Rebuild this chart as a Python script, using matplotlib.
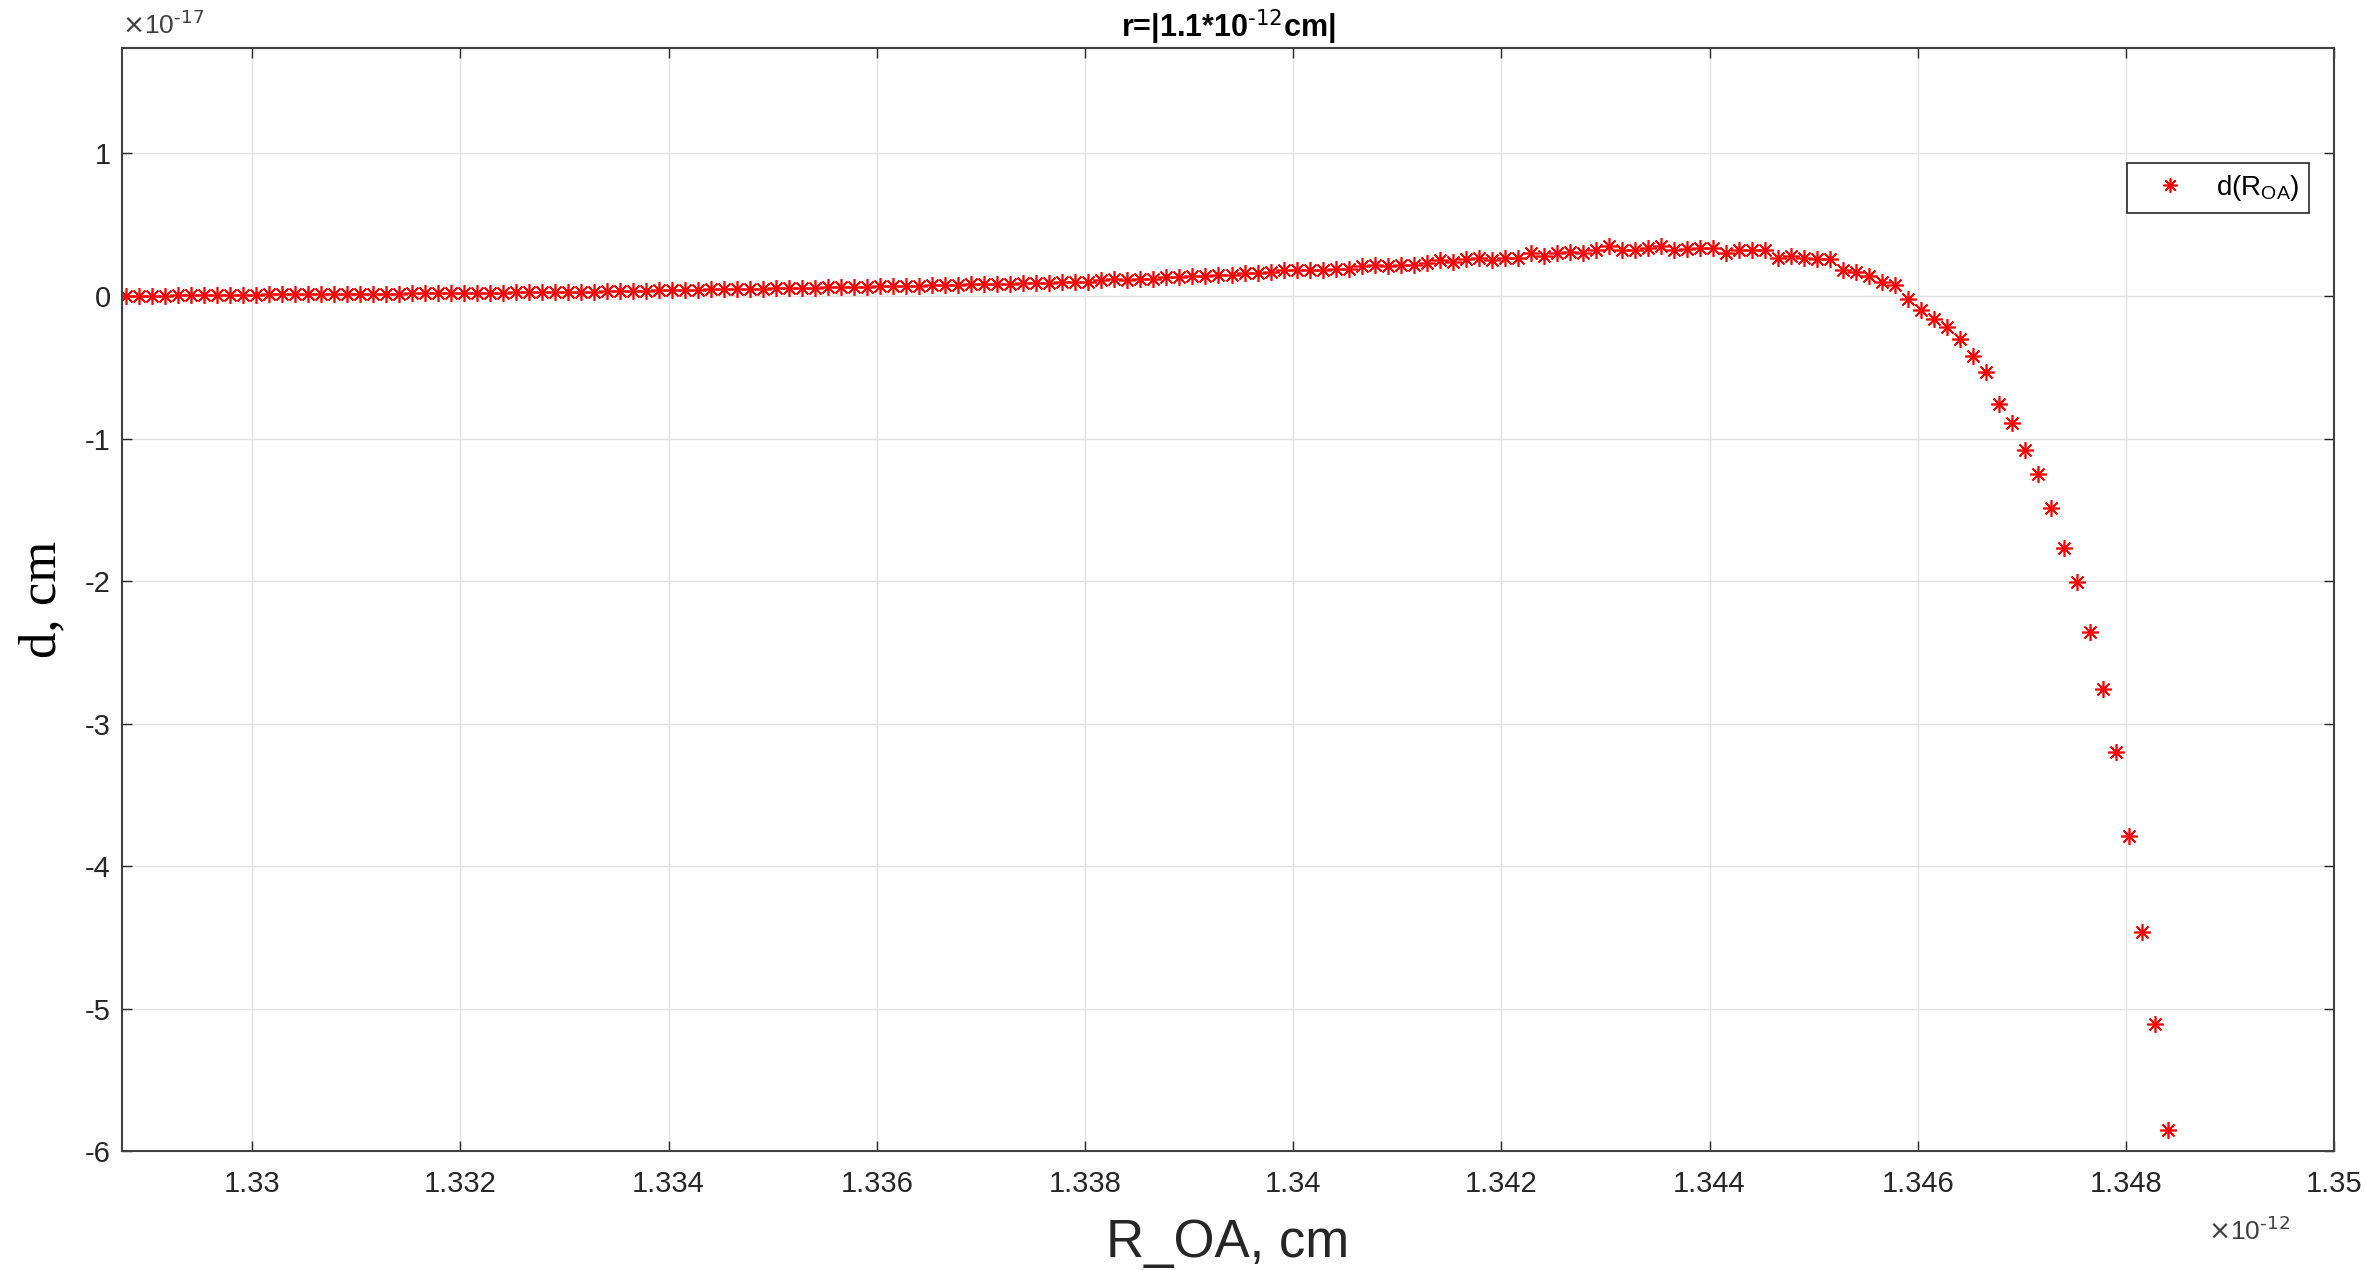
import numpy as np
import matplotlib
matplotlib.use("Agg")
import matplotlib.pyplot as plt

# R_OA sampling grid, in units of 1e-12 cm
r_start = 1.328783
r_step = 0.000125

# d(R_OA) values, in units of 1e-17 cm
d_vals = [
    0.000, 0.001, 0.002, 0.003, 0.004, 0.005, 0.006, 0.007, 0.008, 0.009,
    0.010, 0.011, 0.011, 0.012, 0.013, 0.013, 0.014, 0.015, 0.015, 0.016,
    0.017, 0.017, 0.018, 0.019, 0.019, 0.020, 0.021, 0.022, 0.023, 0.024,
    0.025, 0.026, 0.027, 0.028, 0.029, 0.030, 0.031, 0.033, 0.035, 0.036,
    0.038, 0.040, 0.041, 0.043, 0.044, 0.046, 0.047, 0.049, 0.050, 0.052,
    0.054, 0.055, 0.057, 0.059, 0.060, 0.062, 0.064, 0.065, 0.067, 0.069,
    0.071, 0.073, 0.075, 0.077, 0.079, 0.081, 0.083, 0.085, 0.087, 0.090,
    0.092, 0.094, 0.097, 0.099,
    0.10, 0.11, 0.12, 0.11, 0.12, 0.12, 0.13, 0.13, 0.14, 0.14,
    0.15, 0.15, 0.16, 0.16, 0.17, 0.18, 0.18, 0.18, 0.18, 0.19,
    0.19, 0.21, 0.22, 0.21, 0.22, 0.22, 0.23, 0.25, 0.24, 0.26,
    0.27, 0.25, 0.27, 0.27, 0.30, 0.28, 0.30, 0.31, 0.30, 0.32,
    0.35, 0.32, 0.32, 0.34, 0.35, 0.32, 0.33, 0.34, 0.34, 0.30,
    0.32, 0.32, 0.32, 0.27, 0.28, 0.27, 0.26, 0.26, 0.18, 0.17,
    0.14, 0.10, 0.08, -0.02, -0.10, -0.16, -0.22, -0.30, -0.42, -0.53,
    -0.76, -0.89, -1.08, -1.25, -1.49, -1.77, -2.01, -2.36, -2.76, -3.20,
    -3.79, -4.46, -5.11, -5.85,
]
r_vals = r_start + r_step * np.arange(len(d_vals))

x_ticks = [1.33, 1.332, 1.334, 1.336, 1.338, 1.34, 1.342, 1.344, 1.346, 1.348, 1.35]
x_ticklabels = ["1.33", "1.332", "1.334", "1.336", "1.338", "1.34",
                "1.342", "1.344", "1.346", "1.348", "1.35"]
y_ticks = [-6, -5, -4, -3, -2, -1, 0, 1]
y_ticklabels = ["-6", "-5", "-4", "-3", "-2", "-1", "0", "1"]

narrow = ["Liberation Sans Narrow", "Liberation Sans"]
dark = "#262626"

fig = plt.figure(figsize=(23.66, 12.71), dpi=100)
ax = fig.add_axes([0.0516, 0.0944, 0.9349, 0.8678])

ax.plot(r_vals, d_vals, linestyle="none", marker=(8, 2, 0), markersize=12,
        markeredgewidth=1.2, color="red", label=r"d(R$_{\mathregular{OA}}$)")

ax.set_xlim(1.32875, 1.35)
ax.set_ylim(-6.0, 1.74)
ax.set_xticks(x_ticks)
ax.set_xticklabels(x_ticklabels, fontfamily=narrow, fontsize=21, color=dark)
ax.set_yticks(y_ticks)
ax.set_yticklabels(y_ticklabels, fontfamily=narrow, fontsize=21, color=dark)
ax.tick_params(axis="both", direction="in", length=7, width=1.0, colors=dark,
               top=True, right=True)
ax.tick_params(axis="x", pad=14)
ax.tick_params(axis="y", pad=8)

ax.grid(True, color="#e2e2e2", linewidth=1.0)
ax.set_axisbelow(True)
for sp in ax.spines.values():
    sp.set_color("#404040")
    sp.set_linewidth(1.5)

ax.set_title(r"r=|1.1*10$^{\text{-12}}$cm|", fontfamily=narrow,
             fontsize=22, fontweight="bold", color="black", pad=8)

ax.set_xlabel("R_OA, cm", fontfamily="Liberation Sans", fontsize=38, color=dark)
ax.xaxis.label.set_va("center")
ax.xaxis.set_label_coords(0.5, -0.083)
ax.set_ylabel("d, cm", fontfamily="Liberation Serif", fontsize=38, color="black")
ax.yaxis.label.set_va("center")
ax.yaxis.set_label_coords(-0.036, 0.5)

# exponent labels, MATLAB style
ax.text(0.0, 1.008, r"$\times$10$^{\text{-17}}$", transform=ax.transAxes,
        ha="left", va="bottom", fontfamily=narrow, fontsize=19, color="#404040")
ax.text(0.980, -0.072, r"$\times$10$^{\text{-12}}$", transform=ax.transAxes,
        ha="right", va="center", fontfamily=narrow, fontsize=19, color="#404040")

leg = ax.legend(loc="upper right", bbox_to_anchor=(0.9887, 0.8957), borderaxespad=0,
                fancybox=False, edgecolor="#262626", framealpha=1,
                prop={"family": narrow, "size": 20}, handlelength=2.4,
                handletextpad=0.45, borderpad=0.35, markerscale=0.85)
leg.get_frame().set_linewidth(1.2)

fig.savefig("out.png", dpi=100, facecolor="white")
